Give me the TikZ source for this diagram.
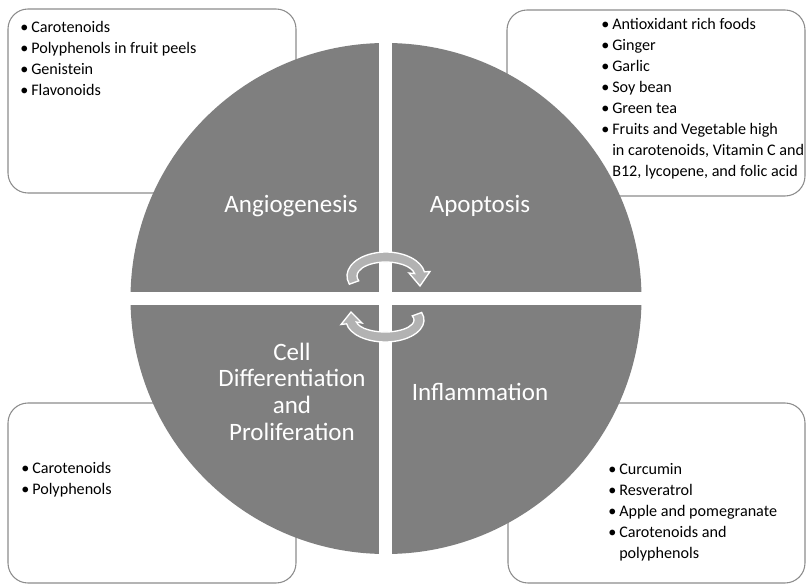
\documentclass[tikz,border=0pt]{standalone}
\usepackage{fontspec}
\setmainfont{Carlito}
\usepackage{xcolor}
\definecolor{wheelgray}{HTML}{7F7F7F}
\definecolor{boxline}{HTML}{8C8C8C}
\definecolor{arrowgray}{HTML}{B2B2B2}
\newcommand{\itm}{\makebox[8.25pt][l]{\textbullet}}
\newcommand{\itmgap}{\hspace*{8.25pt}}

\begin{document}
\begin{tikzpicture}[x=0.75pt, y=-0.75pt,
    foodbox/.style={draw=boxline, line width=0.8pt, rounded corners=15pt},
    foodlist/.style={anchor=north west, inner sep=0pt, align=left, font=\fontsize{12.1}{15.75}\selectfont},
    wheellabel/.style={text=white, inner sep=0pt, font=\fontsize{18.75}{20}\selectfont},
    cyclearrow/.style={fill=arrowgray, draw=white, line width=1pt}]
    \useasboundingbox (0,0) rectangle (807,585);

    % boxes behind the wheel
    \draw [foodbox] (8,9) rectangle (296,193);
    \draw [foodbox] (507,10) rectangle (805,196);
    \draw [foodbox] (8,403) rectangle (296,583);
    \draw [foodbox] (508,403) rectangle (805,583);

    % the wheel
    \fill [wheelgray] (386,298.5) circle [radius=255.5];
    \fill [white] (379,40) rectangle (392,558);
    \fill [white] (128,292) rectangle (646,305);

    % cycle arrows
    \begin{scope}[shift={(386,276)}, yscale=-1]
        \filldraw [cyclearrow] (200:39 and 24) arc [start angle=200, end angle=10, x radius=39, y radius=24]
            -- (44,4.5) -- (34,-10) -- (23,3) -- (10:29 and 14)
            arc [start angle=10, end angle=200, x radius=29, y radius=14] -- cycle;
    \end{scope}
    \begin{scope}[shift={(385,320)}, xscale=-1]
        \filldraw [cyclearrow] (200:39 and 22) arc [start angle=200, end angle=10, x radius=39, y radius=22]
            -- (44,4.5) -- (34,-8) -- (23,3) -- (10:29 and 12)
            arc [start angle=10, end angle=200, x radius=29, y radius=12] -- cycle;
    \end{scope}

    % wheel labels
    \node [wheellabel, anchor=base] (angio) at (291,212) {Angiogenesis};
    \node [wheellabel, anchor=base] (apop) at (480,212) {Apoptosis};
    \node [wheellabel, anchor=base] (inflam) at (480,400) {Inflammation};
    \node [wheellabel, anchor=north, align=center] (celldiff) at (292,341.3) {\strut Cell\\Differentiation\\and\\Proliferation};

    % food lists
    \node [foodlist] (angiofoods) at (20,17.3) {\strut\itm Carotenoids\\\itm Polyphenols in fruit peels\\\itm Genistein\\\itm Flavonoids};
    \node [foodlist] (apopfoods) at (601,14.3) {\strut\itm Antioxidant rich foods\\\itm Ginger\\\itm Garlic\\\itm Soy bean\\\itm Green tea\\\itm Fruits and Vegetable high\\\itmgap in carotenoids, Vitamin C and\\\itmgap B12, lycopene, and folic acid};
    \node [foodlist] (cellfoods) at (21,458.3) {\strut\itm Carotenoids\\\itm Polyphenols};
    \node [foodlist] (inflamfoods) at (608,459.3) {\strut\itm Curcumin\\\itm Resveratrol\\\itm Apple and pomegranate\\\itm Carotenoids and\\\itmgap polyphenols};
\end{tikzpicture}
\end{document}
